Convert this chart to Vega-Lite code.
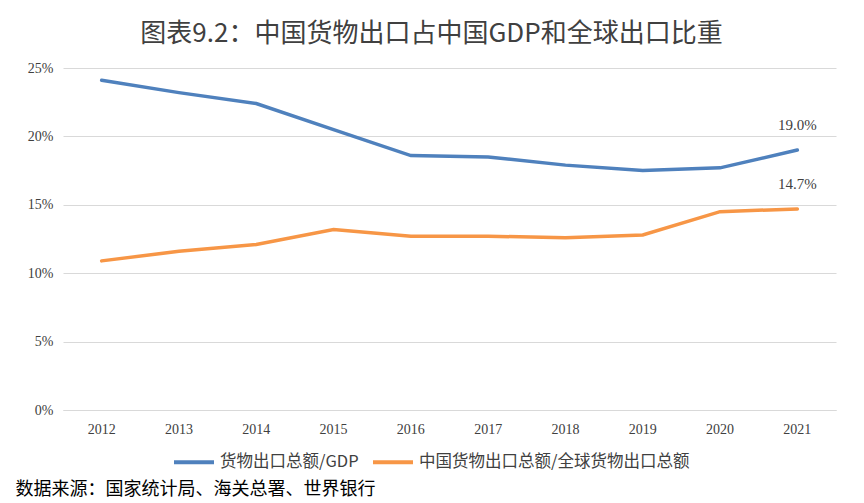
{
  "$schema": "https://vega.github.io/schema/vega-lite/v6.json",
  "autosize": {"type": "none"},
  "width": 773,
  "height": 342,
  "padding": {"left": 63, "top": 68, "right": 28, "bottom": 93},
  "background": "white",
  "title": {
    "text": "图表9.2：中国货物出口占中国GDP和全球出口比重",
    "font": "Noto Sans CJK SC",
    "fontSize": 26,
    "fontWeight": "normal",
    "color": "#404040",
    "anchor": "middle",
    "dx": -18,
    "offset": 14
  },
  "data": {
    "values": [
      {"year": "2012", "series": "货物出口总额/GDP", "value": 0.241},
      {"year": "2013", "series": "货物出口总额/GDP", "value": 0.232},
      {"year": "2014", "series": "货物出口总额/GDP", "value": 0.224},
      {"year": "2015", "series": "货物出口总额/GDP", "value": 0.205},
      {"year": "2016", "series": "货物出口总额/GDP", "value": 0.186},
      {"year": "2017", "series": "货物出口总额/GDP", "value": 0.185},
      {"year": "2018", "series": "货物出口总额/GDP", "value": 0.179},
      {"year": "2019", "series": "货物出口总额/GDP", "value": 0.175},
      {"year": "2020", "series": "货物出口总额/GDP", "value": 0.177},
      {"year": "2021", "series": "货物出口总额/GDP", "value": 0.190},
      {"year": "2012", "series": "中国货物出口总额/全球货物出口总额", "value": 0.109},
      {"year": "2013", "series": "中国货物出口总额/全球货物出口总额", "value": 0.116},
      {"year": "2014", "series": "中国货物出口总额/全球货物出口总额", "value": 0.121},
      {"year": "2015", "series": "中国货物出口总额/全球货物出口总额", "value": 0.132},
      {"year": "2016", "series": "中国货物出口总额/全球货物出口总额", "value": 0.127},
      {"year": "2017", "series": "中国货物出口总额/全球货物出口总额", "value": 0.127},
      {"year": "2018", "series": "中国货物出口总额/全球货物出口总额", "value": 0.126},
      {"year": "2019", "series": "中国货物出口总额/全球货物出口总额", "value": 0.128},
      {"year": "2020", "series": "中国货物出口总额/全球货物出口总额", "value": 0.145},
      {"year": "2021", "series": "中国货物出口总额/全球货物出口总额", "value": 0.147}
    ]
  },
  "encoding": {
    "x": {
      "field": "year",
      "type": "ordinal",
      "scale": {"type": "band", "paddingInner": 0, "paddingOuter": 0},
      "axis": {
        "title": "数据来源：国家统计局、海关总署、世界银行",
        "titleFont": "Noto Sans CJK SC",
        "titleFontSize": 18,
        "titleFontWeight": "normal",
        "titleColor": "#000000",
        "titleAnchor": "start",
        "titleAlign": "left",
        "titleBaseline": "middle",
        "titleX": -48,
        "titleY": 79,
        "labelAngle": 0,
        "labelFont": "Liberation Serif",
        "labelFontSize": 14,
        "labelColor": "#404040",
        "labelPadding": 12,
        "ticks": false,
        "domain": true,
        "domainColor": "#d9d9d9",
        "grid": false
      }
    },
    "y": {
      "field": "value",
      "type": "quantitative",
      "scale": {"domain": [0, 0.25], "nice": false},
      "axis": {
        "title": null,
        "format": ".0%",
        "values": [0, 0.05, 0.1, 0.15, 0.2, 0.25],
        "labelFont": "Liberation Serif",
        "labelFontSize": 14,
        "labelColor": "#404040",
        "labelPadding": 10,
        "ticks": false,
        "domain": false,
        "grid": true,
        "gridColor": "#d9d9d9",
        "gridWidth": 1
      }
    },
    "color": {
      "field": "series",
      "type": "nominal",
      "scale": {
        "domain": ["货物出口总额/GDP", "中国货物出口总额/全球货物出口总额"],
        "range": ["#4F81BD", "#F79646"]
      },
      "legend": {
        "title": null,
        "orient": "none",
        "direction": "horizontal",
        "legendX": 109,
        "legendY": 372,
        "symbolType": "stroke",
        "symbolSize": 1600,
        "symbolStrokeWidth": 4,
        "labelFont": "Noto Sans CJK SC",
        "labelFontSize": 16.5,
        "labelColor": "#404040",
        "labelLimit": 0,
        "columnPadding": 6,
        "labelOffset": 4
      }
    }
  },
  "layer": [
    {
      "mark": {"type": "line", "strokeWidth": 3.5, "strokeCap": "round"}
    },
    {
      "transform": [{"filter": "datum.year == '2021'"}],
      "mark": {
        "type": "text",
        "dy": -25,
        "font": "Liberation Serif",
        "fontSize": 15,
        "color": "#404040"
      },
      "encoding": {
        "text": {"field": "value", "type": "quantitative", "format": ".1%"},
        "color": {"value": "#404040"}
      }
    }
  ],
  "config": {
    "view": {"stroke": null}
  }
}
